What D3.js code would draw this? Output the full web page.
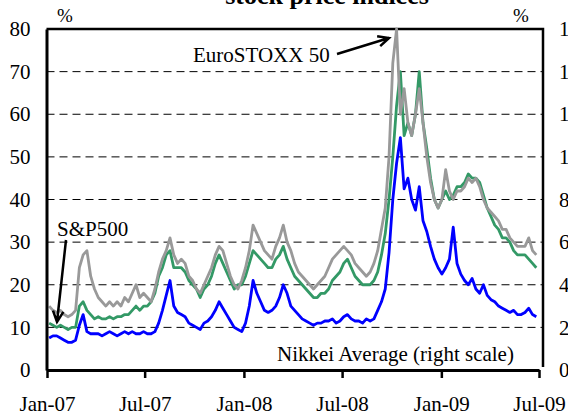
<!DOCTYPE html>
<html>
<head>
<meta charset="utf-8">
<script src="https://cdn.jsdelivr.net/npm/d3@7"></script>
<style>
  body { margin: 0; background: #fff; }
  svg { display: block; }
  text { font-family: "Liberation Serif", "Times New Roman", serif; fill: #000; }
</style>
</head>
<body>
<svg id="chart" width="568" height="413"></svg>
<script>
// weekly observations (Fridays), Jan 2007 - Jun 2009
var weeks = d3.timeFriday.range(new Date(2007, 0, 5), new Date(2009, 5, 27));

// EuroSTOXX 50 implied volatility (left scale, %)
var euroStoxx = [
  15, 14, 13.5, 14, 13, 12.5, 13, 14, 24, 27, 28, 22, 19, 17, 16, 15, 16, 15, 16, 15, 17, 16, 18, 20, 17, 18,
  17, 16, 19, 23, 26, 28, 31, 27, 25, 26, 25, 22, 21, 19, 18, 20, 22, 24, 27, 29, 28, 25, 22, 20, 19, 21,
  24, 28, 34, 32, 30, 28, 27, 26, 29, 31, 34, 30, 28, 25, 23, 22, 21, 20, 19, 20, 21, 22, 24, 26, 27, 28,
  29, 28, 27, 25, 24, 23, 22, 23, 25, 28, 33, 38, 50, 72, 80, 60, 66, 58, 55, 60, 66, 58, 50, 44, 40, 38,
  40, 47, 42, 40, 42, 42, 43, 45, 44, 45, 43, 40, 38, 37, 36, 35, 33, 33, 31, 30, 29, 29, 29, 31, 28, 27
];

// S&P500 implied volatility (left scale, %)
var sp500 = [
  11, 10.5, 10, 10.5, 10, 9.5, 10, 10, 15, 16, 14, 13, 12, 12.5, 12, 12, 12.5, 12, 12.5, 12.5, 13, 13, 14, 15, 14, 15,
  15, 16, 18, 22, 24, 27, 28, 24, 24, 24, 23, 21, 20, 19, 17, 19, 20, 22, 25, 27, 25, 23, 21, 19, 20, 20,
  22, 25, 28, 27, 26, 25, 24, 24, 26, 27, 29, 26, 24, 22, 21, 20, 19, 18, 17, 17, 18, 18, 19, 21, 22, 23,
  25, 26, 24, 22, 21, 20, 20, 20, 21, 23, 27, 32, 40, 50, 62, 70, 55, 58, 55, 60, 70, 58, 52, 45, 40, 38,
  40, 42, 40, 41, 43, 43, 44, 46, 45, 45, 44, 41, 38, 36, 34, 33, 31, 31, 30, 28, 27, 27, 27, 26, 25, 24
];

// Nikkei Average implied volatility (right scale, %)
var nikkei = [
  15, 16, 16, 15, 14, 13, 13, 14, 21, 26, 18, 17, 17, 17, 16, 17, 18, 17, 16, 17, 18, 17, 18, 17, 17, 18,
  17, 17, 18, 22, 28, 35, 42, 30, 27, 26, 25, 22, 21, 20, 19, 22, 23, 25, 28, 32, 29, 26, 23, 20, 19, 18,
  22, 30, 42, 36, 32, 28, 27, 28, 30, 34, 40, 36, 30, 28, 26, 24, 23, 22, 21, 22, 22, 23, 23, 24, 22, 23,
  25, 26, 24, 23, 23, 22, 24, 23, 24, 28, 32, 38, 55, 80, 97, 109, 85, 90, 80, 75, 86, 70, 65, 58, 52, 48,
  45, 48, 52, 67, 50, 45, 42, 40, 43, 38, 36, 40, 35, 33, 32, 30, 29, 28, 27, 28, 26, 26, 27, 29, 26, 25
];

var leftTicks = [0, 10, 20, 30, 40, 50, 60, 70, 80];
var rightTicks = [0, 20, 40, 60, 80, 100, 120, 140, 160];
var dateTicks = [new Date(2007, 0, 1), new Date(2007, 6, 1), new Date(2008, 0, 1),
                 new Date(2008, 6, 1), new Date(2009, 0, 1), new Date(2009, 6, 1)];

var svg = d3.select("#chart");
var plotLeft = 46.5, plotRight = 543, plotTop = 29, plotBottom = 370;

var x = d3.scaleTime().domain([new Date(2007, 0, 1), new Date(2009, 6, 1)]).range([plotLeft + 0.5, 539]);
var yL = d3.scaleLinear().domain([0, 80]).range([plotBottom, plotTop]);
var yR = d3.scaleLinear().domain([0, 160]).range([plotBottom, plotTop]);

// title (only bottom part is visible)
svg.append("text").attr("x", 327).attr("y", 4).attr("text-anchor", "middle")
  .style("font-size", "26px").style("font-weight", "bold").text("stock price indices");

// dashed gridlines
svg.append("g").selectAll("line").data(leftTicks.slice(1, -1)).enter().append("line")
  .attr("x1", plotLeft).attr("x2", plotRight)
  .attr("y1", d => yL(d)).attr("y2", d => yL(d))
  .attr("stroke", "#000").attr("stroke-width", 1).attr("stroke-dasharray", "8,5");

// plot box (top and right)
svg.append("path")
  .attr("d", "M" + plotLeft + "," + plotTop + "H" + plotRight + "V" + (plotBottom - 3))
  .attr("fill", "none").attr("stroke", "#000").attr("stroke-width", 2.5);

// series
function drawLine(values, scale, color) {
  var line = d3.line().x((d, i) => x(weeks[i])).y(d => scale(d));
  svg.append("path").datum(values).attr("d", line)
    .attr("fill", "none").attr("stroke", color).attr("stroke-width", 2.8)
    .attr("stroke-linejoin", "round");
}
drawLine(sp500, yL, "#339966");
drawLine(euroStoxx, yL, "#999999");
drawLine(nikkei, yR, "#0000ff");

// left axis
var gl = svg.append("g").attr("transform", "translate(" + plotLeft + ",0)")
  .call(d3.axisLeft(yL).tickValues(leftTicks).tickSize(0).tickPadding(16));
gl.select(".domain").attr("stroke-width", 3);
gl.selectAll("text").style("font-size", "21px").attr("font-family", null);

// right axis labels (cut by the picture edge, as in the source)
var gr = svg.append("g").attr("transform", "translate(" + plotRight + ",0)")
  .call(d3.axisRight(yR).tickValues(rightTicks).tickSize(0).tickPadding(16));
gr.select(".domain").remove();
gr.selectAll("text").style("font-size", "21px").attr("font-family", null);

// bottom axis
var gb = svg.append("g").attr("transform", "translate(0," + plotBottom + ")")
  .call(d3.axisBottom(x).tickValues(dateTicks).tickFormat(d3.timeFormat("%b-%y"))
    .tickSize(8).tickSizeOuter(0).tickPadding(18));
gb.select(".domain").attr("stroke-width", 3);
gb.selectAll(".tick line").attr("stroke-width", 2.5);
gb.selectAll("text").style("font-size", "21px").attr("font-family", null);

// unit labels
svg.append("text").attr("x", 65).attr("y", 22).attr("text-anchor", "middle").style("font-size", "19px").text("%");
svg.append("text").attr("x", 521).attr("y", 22).attr("text-anchor", "middle").style("font-size", "19px").text("%");

// annotations
svg.append("text").attr("x", 193).attr("y", 62).style("font-size", "21px").text("EuroSTOXX 50");
svg.append("text").attr("x", 57).attr("y", 236).style("font-size", "21px").text("S&P500");
svg.append("text").attr("x", 277).attr("y", 361).style("font-size", "21px").text("Nikkei Average (right scale)");

function arrow(x1, y1, x2, y2) {
  var a = Math.atan2(y2 - y1, x2 - x1), h = 12, s = 0.45;
  svg.append("path")
    .attr("d", "M" + x1 + "," + y1 + "L" + x2 + "," + y2 +
      "M" + (x2 - h * Math.cos(a - s)) + "," + (y2 - h * Math.sin(a - s)) + "L" + x2 + "," + y2 +
      "L" + (x2 - h * Math.cos(a + s)) + "," + (y2 - h * Math.sin(a + s)))
    .attr("fill", "none").attr("stroke", "#000").attr("stroke-width", 2.5);
}
arrow(337, 54, 389, 38);
arrow(66, 240, 57, 322);
</script>
</body>
</html>
